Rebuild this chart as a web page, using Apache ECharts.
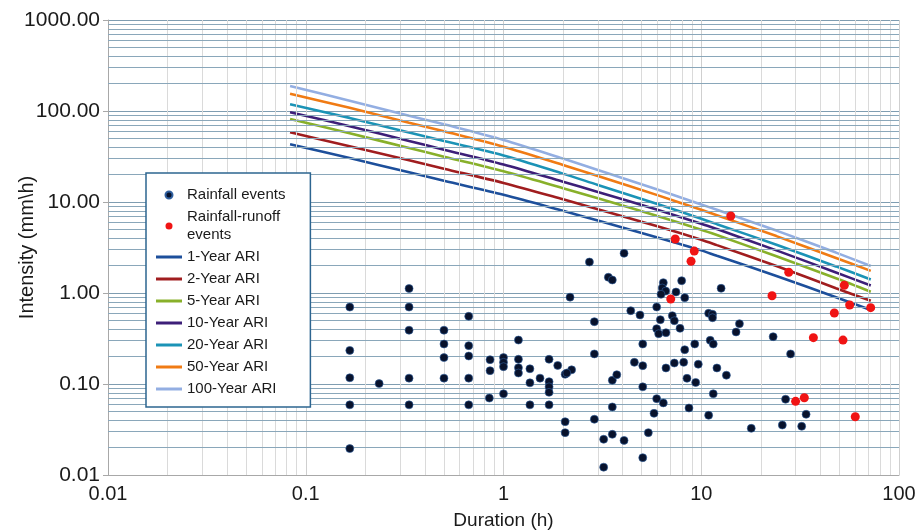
<!DOCTYPE html>
<html>
<head>
<meta charset="utf-8">
<script src="https://cdn.jsdelivr.net/npm/echarts@6/dist/echarts.min.js"></script>
<style>
html,body{margin:0;padding:0;background:#fff;}
#chart{width:918px;height:531px;}
</style>
</head>
<body>
<div id="chart"></div>
<script>
// ---- Data ----
const durations = [0.0833, 0.1667, 0.333, 0.5, 1, 2, 3, 6, 10, 12, 24, 48, 72];
const ari1   = [43,   30.4, 21.2, 17.1, 12.0, 8.0,  6.25, 4.08, 2.94, 2.56, 1.54, 0.90, 0.65];
const ari2   = [58.3, 41.0, 28.7, 23.2, 16.2, 10.7, 8.3,  5.4,  3.85, 3.36, 1.98, 1.13, 0.82];
const ari5   = [81.7, 56.9, 39.2, 31.5, 21.8, 14.2, 11.0, 7.0,  4.96, 4.33, 2.53, 1.45, 1.03];
const ari10  = [96.8, 68.1, 46.8, 37.6, 25.8, 16.7, 12.9, 8.2,  5.78, 5.04, 2.94, 1.68, 1.21];
const ari20  = [118.5,84.0, 58.0, 46.8, 32.5, 20.5, 15.4, 9.5,  6.55, 5.71, 3.39, 1.96, 1.41];
const ari50  = [155,  108.4,74.4, 59.8, 40.5, 25.5, 19.3, 11.9, 8.2,  7.15, 4.22, 2.43, 1.75];
const ari100 = [188,  129.8,88.8, 71.4, 48.0, 30.0, 22.5, 13.7, 9.4,  8.2,  4.85, 2.78, 1.98];

const rainfallEvents = [
  [0.167,0.70],[0.167,0.234],[0.167,0.117],[0.167,0.059],[0.167,0.0195],
  [0.235,0.101],
  [0.333,1.12],[0.333,0.70],[0.333,0.39],[0.333,0.116],[0.333,0.059],
  [0.5,0.39],[0.5,0.275],[0.5,0.195],[0.5,0.116],
  [0.667,0.555],[0.667,0.264],[0.667,0.203],[0.667,0.116],[0.667,0.059],
  [0.855,0.185],[0.855,0.140],[0.848,0.070],
  [1.0,0.195],[1.0,0.173],[1.0,0.155],[1.0,0.078],
  [1.19,0.304],[1.19,0.187],[1.19,0.151],[1.19,0.132],
  [1.36,0.147],[1.36,0.103],[1.36,0.059],
  [1.53,0.116],
  [1.7,0.187],[1.7,0.106],[1.7,0.093],[1.7,0.081],[1.7,0.059],
  [1.88,0.160],
  [2.05,0.128],[2.21,0.143],[2.09,0.132],
  [2.05,0.0385],[2.05,0.0292],
  [2.17,0.90],
  [2.72,2.19],
  [3.39,1.49],[3.55,1.39],
  [2.88,0.484],[2.88,0.214],[2.88,0.041],
  [3.21,0.0247],[3.21,0.0122],
  [3.55,0.110],[3.74,0.1265],[3.55,0.056],[3.55,0.028],
  [4.07,2.73],
  [6.43,1.30],[6.35,1.135],[6.61,1.05],[6.26,0.968],
  [7.45,1.025],[7.96,1.365],[8.25,0.888],
  [12.6,1.126],
  [4.40,0.639],[4.90,0.573],[5.95,0.702],[6.21,0.509],[7.14,0.563],[7.31,0.496],
  [5.95,0.405],[6.09,0.357],[6.63,0.366],[7.81,0.409],
  [10.9,0.598],[11.4,0.583],[11.4,0.535],
  [15.6,0.46],[15.0,0.373],
  [5.06,0.275],[9.27,0.275],[8.25,0.238],
  [11.1,0.302],[11.5,0.275],
  [4.59,0.173],[5.06,0.159],[6.63,0.150],[7.31,0.170],[8.15,0.173],[9.66,0.165],[12.0,0.150],[13.4,0.125],
  [8.47,0.1155],[9.37,0.104],
  [5.06,0.093],[5.95,0.069],[6.43,0.062],
  [5.77,0.0476],[8.67,0.0545],[11.5,0.078],[10.9,0.0453],
  [5.40,0.0292],[4.07,0.024],[5.06,0.0155],
  [23.1,0.331],[28.3,0.214],[26.7,0.068],[33.9,0.0465],[25.7,0.0354],[32.2,0.0343],[17.9,0.0326]
];
const runoffEvents = [
  [14.1,7.02],[7.39,3.92],[9.22,2.89],[8.88,2.23],[7.01,0.86],[27.7,1.69],[22.8,0.934],
  [52.9,1.215],[56.3,0.738],[71.9,0.69],[47.1,0.603],[36.9,0.323],[52.1,0.304],
  [30.0,0.0645],[33.2,0.0707],[60.1,0.0437]
];

const curveNames = ['1-Year ARI','2-Year ARI','5-Year ARI','10-Year ARI','20-Year ARI','50-Year ARI','100-Year ARI'];
const curveValues = [ari1, ari2, ari5, ari10, ari20, ari50, ari100];
const curveColors = ['#1d4f9b','#a01d1f','#88b02a','#3d1f78','#1b93b6','#f07b14','#93aee2'];

// Gridline multipliers per decade
const minorMult = [2,3,4,5,6,7,8,9];
const yDecades = [0.01, 0.1, 1, 10, 100];
const xDecades = [0.01, 0.1, 1, 10];

const hMinor = [];
yDecades.forEach(d => minorMult.forEach(m => hMinor.push({yAxis: +(d*m).toPrecision(3)})));
const vMinor = [];
xDecades.forEach(d => minorMult.forEach(m => vMinor.push({xAxis: +(d*m).toPrecision(3)})));

const chart = echarts.init(document.getElementById('chart'), null, {renderer:'canvas'});

const textColor = '#1a1a1a';
const font = 'Liberation Sans, Arial, sans-serif';

const series = [];
series.push({
  name: 'gridV', type: 'line', data: [], z: 0, silent: true,
  markLine: {silent: true, symbol: 'none', animation: false, label: {show:false},
    lineStyle: {color: '#dadada', width: 1, type: 'solid'}, data: vMinor}
});
series.push({
  name: 'gridH', type: 'line', data: [], z: 1, silent: true,
  markLine: {silent: true, symbol: 'none', animation: false, label: {show:false},
    lineStyle: {color: '#8aa7ba', width: 1, type: 'solid'}, data: hMinor}
});
series.push({
  name: 'Rainfall events', type: 'scatter', data: rainfallEvents, z: 5,
  symbol: 'circle', symbolSize: 8,
  itemStyle: {color: '#08122c', opacity: 1, borderColor: '#2f5f9f', borderWidth: 0.6}
});
series.push({
  name: 'Rainfall-runoff events', type: 'scatter', data: runoffEvents, z: 5,
  symbol: 'circle', symbolSize: 9,
  itemStyle: {color: '#f01414', opacity: 1}
});
curveNames.forEach((n, i) => {
  series.push({
    name: n, type: 'line', z: 4, symbol: 'none', showSymbol: false, smooth: 0.3,
    data: durations.map((d, k) => [d, curveValues[i][k]]),
    lineStyle: {color: curveColors[i], width: 2.6},
    itemStyle: {color: curveColors[i]}
  });
});

const lineIcon = 'path://M0,0 L26,0 L26,3 L0,3 Z';

const option = {
  animation: false,
  backgroundColor: '#ffffff',
  textStyle: {fontFamily: font},
  grid: {left: 108, right: 19, top: 20, bottom: 56, containLabel: false, outerBoundsMode: 'none'},
  legend: {
    z: 50,
    orient: 'vertical', left: 146, top: 173,
    backgroundColor: '#ffffff', borderColor: '#2d6590', borderWidth: 1.5, borderRadius: 0,
    padding: [13, 25, 9, 10],
    itemGap: 4, itemWidth: 26, itemHeight: 7,
    textStyle: {fontSize: 15, color: textColor, lineHeight: 18, fontFamily: font},
    formatter: function (name) { return name === 'Rainfall-runoff events' ? 'Rainfall-runoff\nevents' : name; },
    data: [{name:'Rainfall events', icon:'circle'}, {name:'Rainfall-runoff events', icon:'circle'}]
      .concat(curveNames.map(n => ({name: n, icon: lineIcon})))
  },
  xAxis: {
    type: 'log', logBase: 10, min: 0.01, max: 100,
    name: 'Duration (h)', nameLocation: 'middle', nameGap: 36, nameMoveOverlap: false,
    nameTextStyle: {fontSize: 19, color: textColor, fontFamily: font},
    axisLine: {show: true, lineStyle: {color: '#a8a8a8', width: 1}},
    axisTick: {show: false},
    axisLabel: {fontSize: 20, color: textColor, margin: 9, fontFamily: font,
      formatter: v => String(+(+v).toPrecision(1))},
    splitLine: {show: true, lineStyle: {color: '#cfcfcf', width: 1}},
    minorTick: {show: false}, minorSplitLine: {show: false}
  },
  yAxis: {
    type: 'log', logBase: 10, min: 0.01, max: 1000,
    name: 'Intensity (mm\\h)', nameLocation: 'middle', nameGap: 71, nameMoveOverlap: false,
    nameTextStyle: {fontSize: 20, color: textColor, fontFamily: font},
    axisLine: {show: true, lineStyle: {color: '#a8a8a8', width: 1}},
    axisTick: {show: true, inside: false, length: 5, lineStyle: {color: '#a8a8a8'}},
    axisLabel: {fontSize: 21, color: textColor, margin: 8, fontFamily: font,
      formatter: v => (+v).toFixed(2)},
    splitLine: {show: true, lineStyle: {color: '#7f9db1', width: 1}},
    minorTick: {show: false}, minorSplitLine: {show: false}
  },
  series: series
};
chart.setOption(option);
</script>
</body>
</html>
